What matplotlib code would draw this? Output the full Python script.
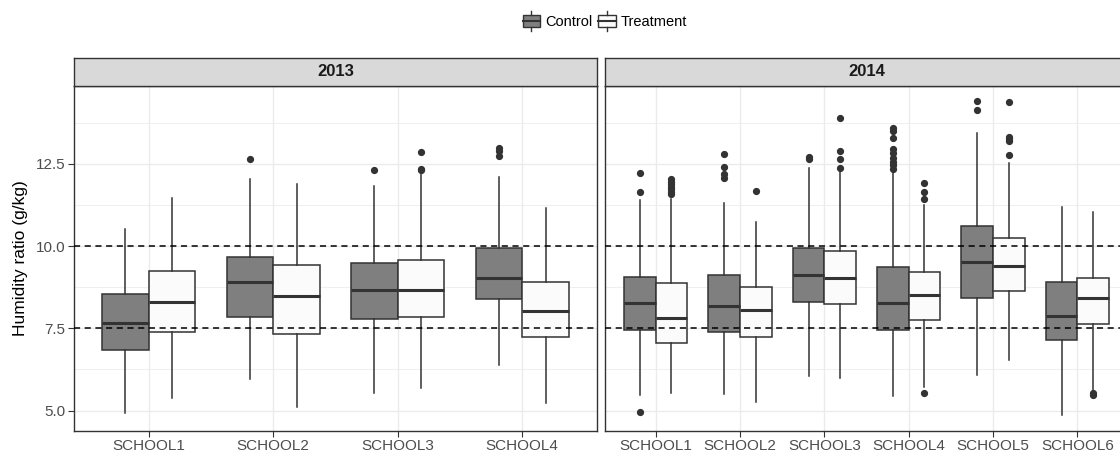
import matplotlib
matplotlib.use('Agg')
import matplotlib.pyplot as plt
from matplotlib.patches import Rectangle
from matplotlib.lines import Line2D
from matplotlib.legend_handler import HandlerBase

plt.rcParams['font.family'] = ['Liberation Sans', 'DejaVu Sans']

# ---------------- data ----------------
schools_2013 = ['SCHOOL1', 'SCHOOL2', 'SCHOOL3', 'SCHOOL4']
schools_2014 = ['SCHOOL1', 'SCHOOL2', 'SCHOOL3', 'SCHOOL4', 'SCHOOL5', 'SCHOOL6']

# 2013 Control
c13_whislo = [4.92, 5.96, 5.55, 6.39]
c13_q1     = [6.85, 7.85, 7.80, 8.40]
c13_med    = [7.66, 8.90, 8.68, 9.03]
c13_q3     = [8.55, 9.66, 9.49, 9.93]
c13_whishi = [10.51, 12.05, 11.83, 12.11]
c13_fliers = [[], [12.64], [12.31], [12.97, 12.90, 12.74]]

# 2013 Treatment
t13_whislo = [5.38, 5.10, 5.70, 5.22]
t13_q1     = [7.38, 7.33, 7.84, 7.23]
t13_med    = [8.29, 8.48, 8.66, 8.02]
t13_q3     = [9.26, 9.44, 9.58, 8.90]
t13_whishi = [11.47, 11.88, 12.21, 11.15]
t13_fliers = [[], [], [12.87, 12.36, 12.31], []]

# 2014 Control
c14_whislo = [5.48, 5.50, 6.06, 5.45, 6.09, 4.87]
c14_q1     = [7.46, 7.38, 8.30, 7.44, 8.42, 7.16]
c14_med    = [8.26, 8.17, 9.11, 8.27, 9.52, 7.88]
c14_q3     = [9.07, 9.12, 9.94, 9.37, 10.60, 8.91]
c14_whishi = [11.40, 11.32, 12.38, 12.24, 13.43, 11.19]
c14_fliers = [[12.22, 11.65, 4.95],
              [12.79, 12.42, 12.18, 12.06],
              [12.72, 12.64],
              [13.58, 13.50, 13.30, 12.95, 12.83, 12.69, 12.56, 12.46, 12.34],
              [14.41, 14.14],
              []]

# 2014 Treatment
t14_whislo = [5.53, 5.26, 5.99, 5.73, 6.54, 5.53]
t14_q1     = [7.07, 7.25, 8.24, 7.76, 8.64, 7.64]
t14_med    = [7.82, 8.07, 9.03, 8.50, 9.41, 8.42]
t14_q3     = [8.87, 8.77, 9.86, 9.20, 10.26, 9.03]
t14_whishi = [11.44, 10.74, 12.29, 11.24, 12.52, 11.05]
t14_fliers = [[12.03, 11.95, 11.88, 11.80, 11.73, 11.65, 11.58],
              [11.68],
              [13.89, 12.90, 12.66, 12.38],
              [11.91, 11.66, 11.42, 5.53],
              [14.37, 13.33, 13.27, 13.20, 12.78],
              [5.55, 5.47]]

ref_lines = [7.5, 10.0]
y_ticks = [5.0, 7.5, 10.0, 12.5]
y_minor = [6.25, 8.75, 11.25, 13.75]
groups = ['Control', 'Treatment']
years = ['2013', '2014']

# ---------------- style ----------------
FILL_C = '#7f7f7f'
FILL_T = '#fbfbfb'
EDGE = '#333333'
GRID = '#ebebeb'
BORDER = '#333333'
TICKTXT = '#4d4d4d'

fig = plt.figure(figsize=(11.2, 4.54), dpi=100)
W, H = 1120, 454

def fx(px):
    return px / W

def fy(py):
    return 1 - py / H

top_px, bot_px = 86, 431
strip_top = 58
panels = [(74, 597), (605, 1128)]


def make_stats(whislo, q1, med, q3, whishi, fliers):
    out = []
    for i in range(len(med)):
        out.append(dict(whislo=whislo[i], q1=q1[i], med=med[i], q3=q3[i],
                        whishi=whishi[i], fliers=fliers[i]))
    return out

data = {
    '2013': (schools_2013,
             make_stats(c13_whislo, c13_q1, c13_med, c13_q3, c13_whishi, c13_fliers),
             make_stats(t13_whislo, t13_q1, t13_med, t13_q3, t13_whishi, t13_fliers)),
    '2014': (schools_2014,
             make_stats(c14_whislo, c14_q1, c14_med, c14_q3, c14_whishi, c14_fliers),
             make_stats(t14_whislo, t14_q1, t14_med, t14_q3, t14_whishi, t14_fliers)),
}

ylim = (4.38, 14.87)
axes = []
for k, yr in enumerate(years):
    l, r = panels[k]
    ax = fig.add_axes([fx(l), fy(bot_px), fx(r - l), fy(top_px) - fy(bot_px)])
    axes.append(ax)
    schools, cstats, tstats = data[yr]
    n = len(schools)
    xs = list(range(1, n + 1))
    ax.set_xlim(0.4, n + 0.6)
    ax.set_ylim(*ylim)
    # grid
    for v in y_ticks:
        ax.axhline(v, color=GRID, lw=1.0, zorder=0)
    for v in y_minor:
        ax.axhline(v, color=GRID, lw=0.55, zorder=0)
    for x in xs:
        ax.axvline(x, color=GRID, lw=1.0, zorder=0)
    for fill, stats, off in ((FILL_C, cstats, -0.1875), (FILL_T, tstats, 0.1875)):
        ax.bxp(stats, positions=[x + off for x in xs], widths=0.375,
               patch_artist=True, showfliers=True, manage_ticks=False,
               boxprops=dict(facecolor=fill, edgecolor=EDGE, linewidth=1.1),
               medianprops=dict(color=EDGE, linewidth=2.2),
               whiskerprops=dict(color=EDGE, linewidth=1.1),
               capprops=dict(linewidth=0),
               flierprops=dict(marker='o', markerfacecolor=EDGE, markeredgecolor=EDGE,
                               markersize=4.2, linestyle='none'),
               zorder=3)
    for v in ref_lines:
        ax.axhline(v, color='black', lw=1.1, ls=(0, (4, 3)), zorder=4)
    ax.set_xticks(xs)
    ax.set_xticklabels(schools)
    ax.tick_params(axis='x', length=4, width=0.8, color=BORDER, labelcolor=TICKTXT,
                   labelsize=11, pad=2)
    if k == 0:
        ax.set_yticks(y_ticks)
        ax.set_yticklabels(['%.1f' % v for v in y_ticks])
        ax.tick_params(axis='y', length=4, width=0.8, color=BORDER, labelcolor=TICKTXT,
                       labelsize=11, pad=2)
        ax.set_ylabel('Humidity ratio (g/kg)', fontsize=12.5, color='black', labelpad=6)
    else:
        ax.set_yticks([])
    for s in ax.spines.values():
        s.set_color(BORDER)
        s.set_linewidth(1.0)
    # strip
    sax = fig.add_axes([fx(l), fy(top_px), fx(r - l), fy(strip_top) - fy(top_px)])
    sax.set_facecolor('#d9d9d9')
    sax.set_xticks([])
    sax.set_yticks([])
    for s in sax.spines.values():
        s.set_color(BORDER)
        s.set_linewidth(1.0)
    sax.text(0.5, 0.5, yr, transform=sax.transAxes, ha='center', va='center',
             fontsize=12, fontweight='bold', color='#1a1a1a')


class BoxHandler(HandlerBase):
    def __init__(self, fill):
        super().__init__()
        self.fill = fill

    def create_artists(self, legend, orig_handle, xdescent, ydescent, width, height,
                       fontsize, trans):
        w = width
        h = height
        cx = -xdescent + w / 2
        y0 = -ydescent
        rect = Rectangle((-xdescent, y0 + 0.1 * h), w, 0.8 * h,
                         facecolor=self.fill, edgecolor=EDGE, lw=1.0, transform=trans)
        med = Line2D([-xdescent, -xdescent + w], [y0 + 0.5 * h] * 2,
                     color=EDGE, lw=1.5, transform=trans)
        w1 = Line2D([cx, cx], [y0 - 0.15 * h, y0 + 0.1 * h], color=EDGE, lw=1.0,
                    transform=trans)
        w2 = Line2D([cx, cx], [y0 + 0.9 * h, y0 + 1.15 * h], color=EDGE, lw=1.0,
                    transform=trans)
        return [rect, med, w1, w2]

hc = Rectangle((0, 0), 1, 1)
ht = Rectangle((0, 0), 1, 1)
fig.legend([hc, ht], groups, loc='center', bbox_to_anchor=(fx(605), fy(21)),
           ncol=2, frameon=False, fontsize=10.5, handlelength=1.2, handleheight=1.3,
           handletextpad=0.35, columnspacing=0.4,
           handler_map={hc: BoxHandler(FILL_C), ht: BoxHandler(FILL_T)})

fig.savefig('out.png', dpi=100)
